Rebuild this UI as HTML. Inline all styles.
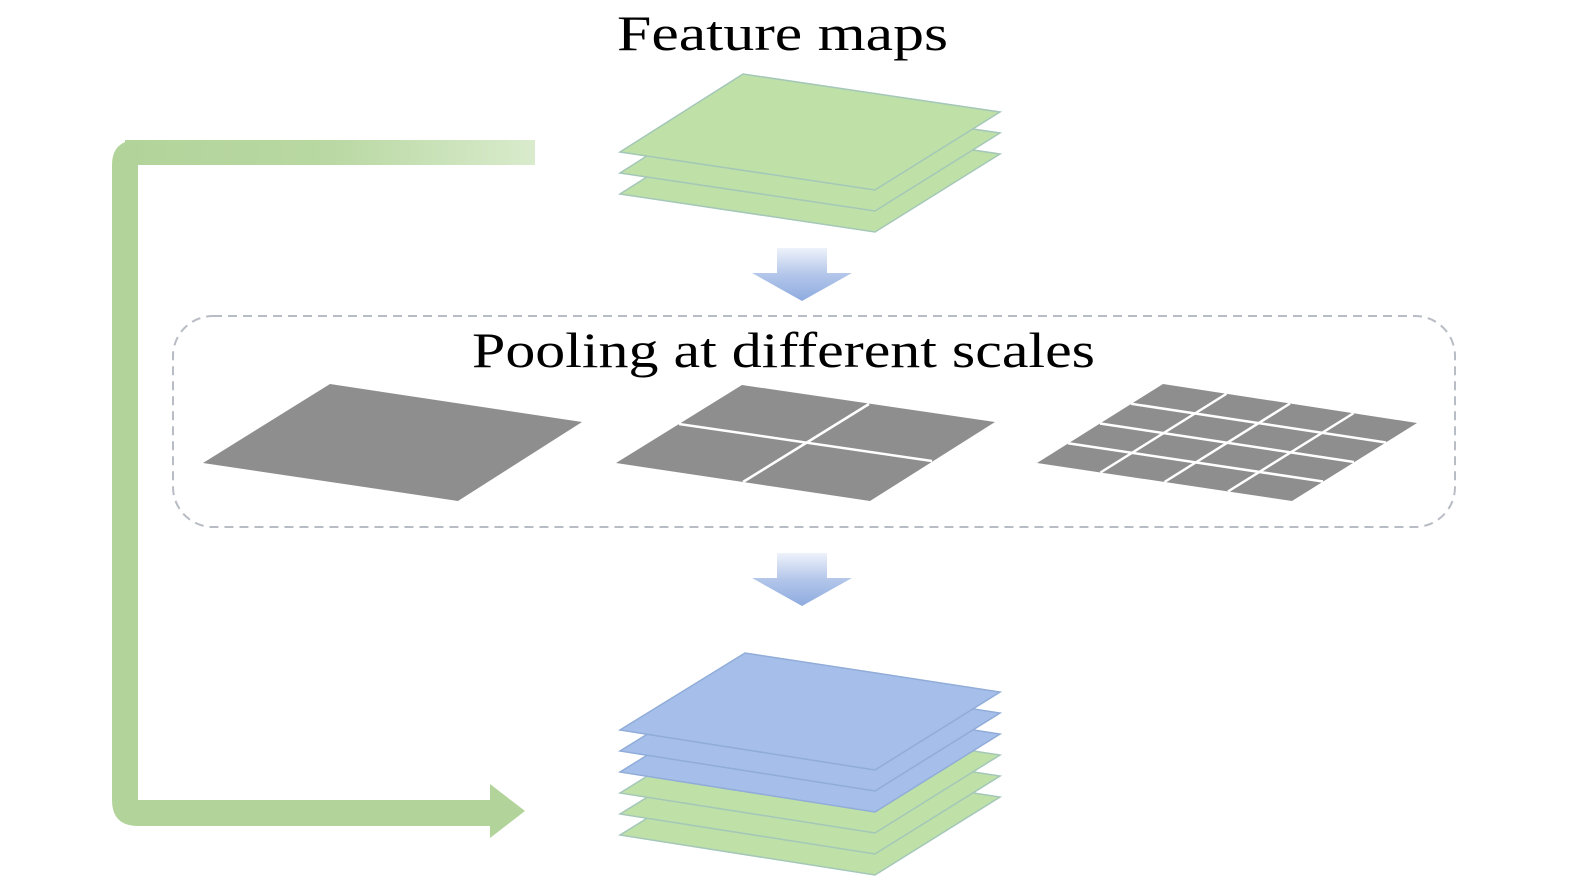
<!DOCTYPE html>
<html><head><meta charset="utf-8"><style>
html,body{margin:0;padding:0;background:#fff;}
svg{display:block;}
text{font-family:"Liberation Serif",serif;fill:#000;}
</style></head><body>
<svg width="1575" height="884" viewBox="0 0 1575 884" xmlns="http://www.w3.org/2000/svg">
<defs>
<linearGradient id="gh" x1="0" x2="1" y1="0" y2="0">
<stop offset="0" stop-color="#b2d49a"/><stop offset="0.5" stop-color="#b9d8a3"/><stop offset="1" stop-color="#d9ebcc"/>
</linearGradient>
<linearGradient id="ba" x1="0" x2="0" y1="0" y2="1">
<stop offset="0" stop-color="#eef2fa"/><stop offset="0.5" stop-color="#b3c6ea"/><stop offset="1" stop-color="#8eabdf"/>
</linearGradient>
</defs>
<text x="617" y="50" font-size="50" textLength="331" lengthAdjust="spacingAndGlyphs">Feature maps</text>
<text x="472" y="367" font-size="50" textLength="623" lengthAdjust="spacingAndGlyphs">Pooling at different scales</text>

<!-- green feedback arrow -->
<rect x="125" y="140" width="410" height="25" fill="url(#gh)"/>
<path d="M138 140 L138 800 L490 800 L490 784 L525 811 L490 838 L490 826 L138 826 Q112 826 112 800 L112 165 Q112 140 138 140 Z" fill="#b2d49a"/>

<!-- top stack -->
<g stroke="#a4c7b8" stroke-width="1.5">
<polygon points="620,194 743,116 1000,154 875,232" fill="#bfe1a8"/>
<polygon points="620,173 743,95 1000,133 875,211" fill="#bfe1a8"/>
<polygon points="620,152 743,74 1000,112 875,190" fill="#bfe1a8"/>
</g>

<!-- blue arrows -->
<g fill="url(#ba)">
<path d="M777 248 L827 248 L827 273 L852 273 L802 301 L752 273 L777 273 Z"/>
<path d="M777 553 L827 553 L827 578 L852 578 L802 606 L752 578 L777 578 Z"/>
</g>

<!-- dashed box -->
<rect x="173" y="316" width="1282" height="211" rx="40" fill="none" stroke="#b8bcc4" stroke-width="2" stroke-dasharray="9,6"/>

<!-- gray pools -->
<polygon points="203,463 330,384 582,422 458,501" fill="#8e8e8e"/>
<polygon points="616,463 742,385 995,422 870,501" fill="#8e8e8e"/>
<g stroke="#fff" stroke-width="2.5">
<line x1="679" y1="424" x2="932" y2="461"/>
<line x1="869" y1="404" x2="743" y2="482"/>
</g>
<polygon points="1037,463 1163,384 1417,423 1292,501" fill="#8e8e8e"/>
<g stroke="#fff" stroke-width="2.5">
<line x1="1068" y1="443.25" x2="1323" y2="481.5"/>
<line x1="1100" y1="423.5" x2="1354" y2="462"/>
<line x1="1131" y1="403.75" x2="1386" y2="442.5"/>
<line x1="1226.5" y1="393.75" x2="1100.5" y2="472.5"/>
<line x1="1290" y1="403.5" x2="1164.5" y2="482"/>
<line x1="1353.5" y1="413.25" x2="1228" y2="491.5"/>
</g>

<!-- bottom stack -->
<g stroke="#a4c7b8" stroke-width="1.5">
<polygon points="620,835 745,758 1000,797 875,875" fill="#bfe1a8"/>
<polygon points="620,814 745,737 1000,776 875,854" fill="#bfe1a8"/>
<polygon points="620,793 745,716 1000,755 875,833" fill="#bfe1a8"/>
</g>
<g stroke="#90acd8" stroke-width="1.5">
<polygon points="620,772 745,695 1000,734 875,812" fill="#a6bfea"/>
<polygon points="620,751 745,674 1000,713 875,791" fill="#a6bfea"/>
<polygon points="620,730 745,653 1000,692 875,770" fill="#a6bfea"/>
</g>
</svg>
</body></html>
